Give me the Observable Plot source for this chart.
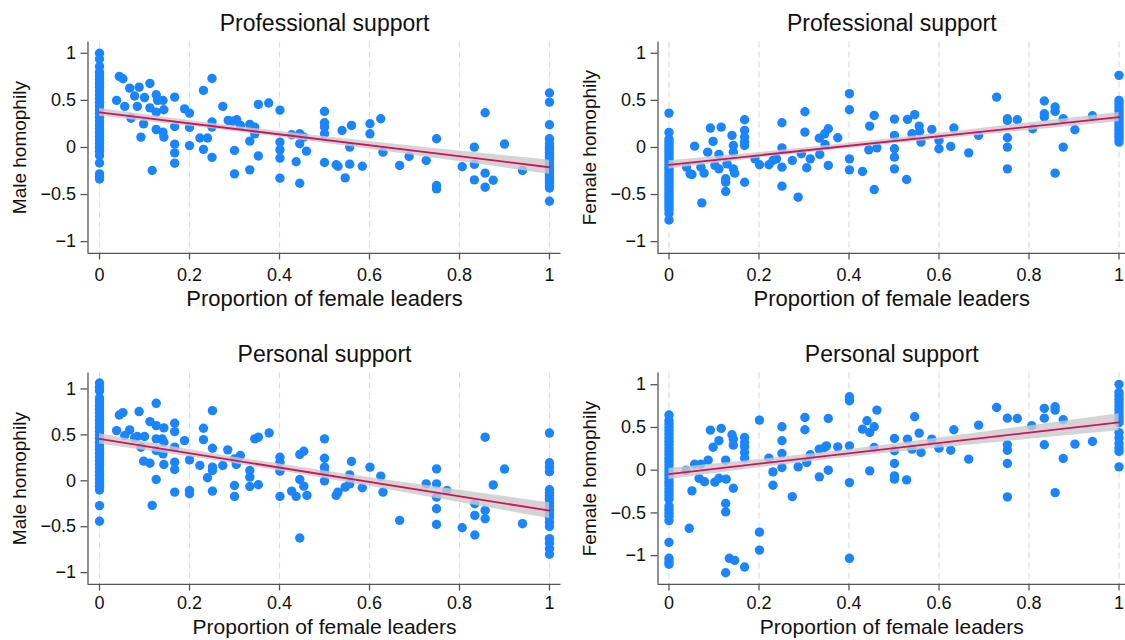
<!DOCTYPE html>
<html>
<head>
<meta charset="utf-8">
<script src="https://cdn.jsdelivr.net/npm/d3@7"></script>
<script src="https://cdn.jsdelivr.net/npm/@observablehq/plot@0.6"></script>
<style>
  html, body { margin: 0; padding: 0; background: #fff; }
  #root { position: relative; width: 1125px; height: 640px; overflow: hidden; background: #fff; }
  .cell { position: absolute; }
</style>
</head>
<body>
<div id="root"></div>
<script>
// ---------- tick labels & texts ----------
const xTicks = [0, 0.2, 0.4, 0.6, 0.8, 1];
const yTicks = [-1, -0.5, 0, 0.5, 1];
const xLabel = "Proportion of female leaders";
const panelTitles = ["Professional support", "Professional support", "Personal support", "Personal support"];
const yLabels = ["Male homophily", "Female homophily", "Male homophily", "Female homophily"];

// ---------- Panel 1: Professional support, male homophily ----------
const profMaleAt0 = [1.0,0.94,0.86,0.8,0.76,0.72,0.68,0.64,0.6,0.56,0.52,0.48,0.44,0.4,0.36,0.32,0.28,0.24,0.2,0.16,0.12,0.08,0.04,0,-0.04,-0.085,-0.165,-0.28,-0.31,-0.335];
const profMaleAt1 = [0.578,0.482,0.241,0.092,0.04,0.004,-0.02,-0.05,-0.08,-0.103,-0.13,-0.174,-0.2,-0.227,-0.25,-0.28,-0.31,-0.333,-0.36,-0.387,-0.41,-0.43,-0.571];
const profMaleMid = [[0.038,0.5],[0.044,0.755],[0.052,0.73],[0.056,0.436],[0.067,0.63],[0.07,0.31],[0.078,0.546],[0.084,0.436],[0.088,0.64],[0.092,0.11],[0.098,0.25],[0.1,0.53],[0.112,0.68],[0.112,0.42],[0.117,-0.245],[0.126,0.56],[0.129,0.5],[0.126,0.375],[0.126,0.19],[0.141,0.5],[0.143,0.4],[0.141,0.163],[0.143,0.11],[0.167,0.535],[0.167,0.223],[0.167,0.035],[0.167,-0.057],[0.167,-0.167],[0.189,0.41],[0.2,0.365],[0.2,0.213],[0.2,0.02],[0.223,0.1],[0.231,0.606],[0.231,-0.02],[0.24,0.1],[0.25,0.732],[0.25,0.27],[0.25,0.216],[0.25,-0.105],[0.274,0.436],[0.286,0.287],[0.296,0.28],[0.305,0.294],[0.313,0.234],[0.3,-0.032],[0.3,-0.28],[0.334,0.245],[0.334,0.067],[0.334,-0.238],[0.345,0.216],[0.345,0.145],[0.353,0.457],[0.353,-0.09],[0.376,0.472],[0.401,0.397],[0.401,0.057],[0.401,-0.025],[0.401,-0.113],[0.401,-0.326],[0.427,0.135],[0.437,-0.152],[0.445,0.145],[0.445,0.039],[0.445,-0.38],[0.454,0.11],[0.46,-0.039],[0.5,0.383],[0.5,0.262],[0.5,0.216],[0.5,0.145],[0.5,-0.16],[0.526,-0.184],[0.53,-0.199],[0.539,0.18],[0.546,-0.323],[0.556,0.004],[0.56,0.234],[0.556,-0.177],[0.584,-0.199],[0.601,0.252],[0.601,0.145],[0.625,0.305],[0.63,-0.05],[0.667,-0.191],[0.688,-0.096],[0.726,-0.138],[0.749,0.092],[0.749,-0.404],[0.749,-0.44],[0.806,-0.205],[0.833,0.004],[0.833,-0.18],[0.833,-0.344],[0.857,0.369],[0.857,-0.273],[0.857,-0.422],[0.875,-0.348],[0.9,0.036],[0.94,-0.245]];
const profMaleFit = [0.372, -0.21];
const profMaleCI = [0.041, 0.029, 0.035, 0.052, 0.074];

// ---------- Panel 2: Professional support, female homophily ----------
const profFemaleAt0 = [0.365,0.16,0.09,0.06,0.03,0,-0.03,-0.06,-0.09,-0.12,-0.15,-0.18,-0.21,-0.24,-0.27,-0.3,-0.33,-0.36,-0.39,-0.42,-0.45,-0.48,-0.51,-0.54,-0.57,-0.6,-0.63,-0.66,-0.7,-0.77];
const profFemaleAt1 = [0.766,0.5,0.465,0.43,0.395,0.36,0.33,0.3,0.27,0.24,0.21,0.18,0.15,0.12,0.09,0.057];
const profFemaleMid = [[0.039,-0.21],[0.047,-0.28],[0.057,0.014],[0.051,-0.287],[0.071,-0.209],[0.073,-0.589],[0.078,-0.273],[0.086,-0.05],[0.092,0.206],[0.098,0.064],[0.102,-0.19],[0.111,-0.227],[0.116,0.216],[0.111,-0.074],[0.126,-0.333],[0.126,-0.369],[0.126,-0.468],[0.129,-0.174],[0.14,0.128],[0.143,0.021],[0.143,-0.05],[0.143,-0.227],[0.146,-0.273],[0.168,0.294],[0.168,0.181],[0.168,0.11],[0.168,0.057],[0.168,0.021],[0.168,-0.369],[0.191,-0.121],[0.201,-0.184],[0.222,-0.184],[0.231,-0.138],[0.239,-0.121],[0.251,0.262],[0.251,-0.004],[0.251,-0.209],[0.251,-0.411],[0.274,-0.138],[0.287,-0.528],[0.294,-0.067],[0.302,0.379],[0.302,0.163],[0.306,-0.216],[0.314,-0.121],[0.334,0.099],[0.335,-0.074],[0.346,0.145],[0.347,0.032],[0.354,0.199],[0.354,-0.191],[0.375,0.103],[0.401,0.571],[0.401,0.401],[0.401,-0.121],[0.401,-0.238],[0.43,-0.255],[0.444,-0.025],[0.446,0.227],[0.456,0.34],[0.456,-0.447],[0.462,-0.004],[0.501,0.301],[0.501,0.128],[0.501,-0.014],[0.501,-0.103],[0.501,-0.227],[0.528,-0.34],[0.53,0.298],[0.54,0.145],[0.546,0.348],[0.556,0.227],[0.557,0.17],[0.56,0.057],[0.584,0.191],[0.6,0.074],[0.6,-0.014],[0.626,0.011],[0.633,0.206],[0.666,-0.057],[0.688,0.128],[0.728,0.535],[0.752,0.305],[0.752,0.287],[0.752,0.103],[0.752,0.004],[0.752,-0.227],[0.774,0.294],[0.808,0.199],[0.834,0.493],[0.834,0.358],[0.834,0.323],[0.858,0.429],[0.858,0.383],[0.858,-0.273],[0.876,0.004],[0.876,0.305],[0.902,0.188],[0.941,0.337]];
const profFemaleFit = [-0.185, 0.322];
const profFemaleCI = [0.044, 0.028, 0.03, 0.038, 0.05];

// ---------- Panel 3: Personal support, male homophily ----------
const persMaleAt0 = [1.065,1.02,0.98,0.9,0.86,0.82,0.78,0.74,0.7,0.66,0.62,0.58,0.54,0.5,0.46,0.42,0.38,0.34,0.3,0.26,0.22,0.18,0.14,0.1,0.06,0.02,-0.02,-0.06,-0.1,-0.27,-0.44];
const persMaleAt1 = [0.52,0.196,0.15,0.1,-0.098,-0.13,-0.16,-0.2,-0.24,-0.28,-0.32,-0.36,-0.4,-0.45,-0.497,-0.63,-0.68,-0.74,-0.8];
const persMaleMid = [[0.038,0.547],[0.044,0.717],[0.052,0.743],[0.056,0.493],[0.067,0.554],[0.078,0.467],[0.088,0.754],[0.084,0.482],[0.092,0.366],[0.098,0.214],[0.1,0.482],[0.112,0.645],[0.112,0.192],[0.117,-0.268],[0.126,0.844],[0.126,0.601],[0.126,0.457],[0.126,0.33],[0.126,0.014],[0.139,0.457],[0.143,0.576],[0.143,0.42],[0.141,0.293],[0.143,0.178],[0.167,0.627],[0.167,0.536],[0.167,0.366],[0.167,0.203],[0.167,0.123],[0.167,-0.123],[0.189,0.438],[0.2,0.228],[0.2,-0.105],[0.2,-0.141],[0.223,0.167],[0.231,0.572],[0.231,0.449],[0.24,0.033],[0.251,0.764],[0.251,0.355],[0.251,0.149],[0.251,0.112],[0.251,-0.112],[0.274,0.167],[0.285,0.337],[0.3,0.239],[0.304,0.178],[0.313,0.275],[0.3,-0.051],[0.3,-0.17],[0.334,0.112],[0.334,0.04],[0.334,-0.062],[0.345,0.457],[0.353,0.475],[0.353,-0.043],[0.377,0.522],[0.401,0.257],[0.401,0.203],[0.401,0.105],[0.401,-0.17],[0.427,-0.112],[0.437,-0.17],[0.445,0.286],[0.454,0.322],[0.445,0.014],[0.454,-0.058],[0.461,-0.159],[0.445,-0.623],[0.5,0.457],[0.5,0.246],[0.5,0.149],[0.5,0.094],[0.5,0],[0.526,-0.159],[0.53,-0.123],[0.546,-0.069],[0.556,-0.033],[0.556,0.065],[0.56,0.21],[0.584,-0.076],[0.601,0.149],[0.625,0.051],[0.63,-0.123],[0.667,-0.431],[0.726,-0.033],[0.749,0.13],[0.749,-0.033],[0.749,-0.178],[0.749,-0.304],[0.749,-0.475],[0.772,-0.105],[0.806,-0.511],[0.834,-0.25],[0.834,-0.377],[0.834,-0.59],[0.857,0.475],[0.857,-0.322],[0.857,-0.413],[0.875,-0.045],[0.9,0.128],[0.94,-0.467]];
const persMaleFit = [0.457, -0.325];
const persMaleCI = [0.055, 0.036, 0.042, 0.062, 0.085];

// ---------- Panel 4: Personal support, female homophily ----------
const persFemaleAt0 = [0.645,0.58,0.54,0.5,0.46,0.42,0.38,0.34,0.3,0.26,0.22,0.18,0.14,0.1,0.06,0.02,-0.02,-0.06,-0.1,-0.14,-0.18,-0.22,-0.26,-0.3,-0.34,-0.42,-0.46,-0.5,-0.54,-0.59,-0.845,-1.03,-1.07,-1.1];
const persFemaleAt1 = [1.004,0.91,0.87,0.83,0.79,0.75,0.71,0.67,0.63,0.59,0.556,0.44,0.38,0.31,0.26,0.22,0.039];
const persFemaleMid = [[0.038,0],[0.051,-0.242],[0.045,-0.68],[0.057,0.07],[0.071,0.07],[0.067,-0.095],[0.079,-0.135],[0.087,0.117],[0.092,0.469],[0.098,0.268],[0.102,-0.14],[0.111,0.345],[0.116,0.489],[0.111,-0.095],[0.126,0.117],[0.127,-0.105],[0.126,-0.39],[0.126,-0.488],[0.126,-1.2],[0.134,-1.031],[0.14,0.414],[0.143,0.363],[0.143,0.293],[0.143,-0.211],[0.146,-1.055],[0.168,0.383],[0.168,0.324],[0.168,0.273],[0.168,0.207],[0.168,0.141],[0.168,-1.133],[0.201,0.586],[0.201,-0.725],[0.201,-0.935],[0.222,0.141],[0.231,-0.02],[0.231,-0.176],[0.251,0.508],[0.251,0.344],[0.251,0.195],[0.251,0.031],[0.274,-0.309],[0.287,0.039],[0.302,0.617],[0.302,0.473],[0.306,0.09],[0.314,0.18],[0.334,0.246],[0.334,-0.078],[0.346,0.266],[0.35,0.285],[0.354,0.605],[0.354,0],[0.375,0.273],[0.401,0.859],[0.401,0.813],[0.401,0.285],[0.401,-0.145],[0.401,-1.031],[0.43,0.48],[0.44,0.578],[0.446,0.441],[0.456,0.508],[0.446,-0.008],[0.462,0.703],[0.456,0.266],[0.501,0.371],[0.501,0.227],[0.501,0.078],[0.501,-0.066],[0.501,-0.105],[0.528,-0.113],[0.53,0.363],[0.54,0.246],[0.546,0.625],[0.556,0.434],[0.56,0.207],[0.584,0.363],[0.6,0.258],[0.626,0.234],[0.633,0.473],[0.666,0.129],[0.688,0.527],[0.728,0.734],[0.752,0.609],[0.752,0.297],[0.752,0.234],[0.752,0.078],[0.752,-0.313],[0.774,0.605],[0.806,0.52],[0.834,0.723],[0.834,0.609],[0.834,0.297],[0.858,0.742],[0.858,0.703],[0.876,0.59],[0.876,0.137],[0.858,-0.262],[0.902,0.305],[0.941,0.336]];
const persFemaleFit = [-0.045, 0.56];
const persFemaleCI = [0.064, 0.045, 0.05, 0.072, 0.1];

// x positions at which the CI half-widths above were read
const ciX = [0, 0.25, 0.5, 0.75, 1];

// ---------- styling ----------
const FONT = "'Liberation Sans', Arial, Helvetica, sans-serif";
const DOT = "#1a85ff";
const LINE = "#d41159";
const AXIS = "#555555";
const GRID = "#dedede";
const fmt = d => (d < 0 ? "\u2212" : "") + Math.abs(d);

function buildPoints(at0, mid, at1) {
  return [
    ...at0.map(y => ({x: 0, y})),
    ...mid.map(([x, y]) => ({x, y})),
    ...at1.map(y => ({x: 1, y}))
  ];
}

function panel(cfg) {
  const {title, yLabel, at0, mid, at1, fit, ci, xDomain, yDomain, width, marginLeft, marginRight, xLabelDy, xLabelSize, xTickPad} = cfg;
  const pts = buildPoints(at0, mid, at1);
  const f = x => fit[0] + (fit[1] - fit[0]) * x;
  const band = ciX.map((x, i) => ({x, lo: f(x) - ci[i], hi: f(x) + ci[i]}));
  const line = [{x: 0, y: fit[0]}, {x: 1, y: fit[1]}];
  return Plot.plot({
    width, height: 320,
    marginTop: 41.5, marginBottom: 67.2, marginLeft, marginRight,
    x: {domain: xDomain},
    y: {domain: yDomain},
    style: {fontFamily: FONT, fontSize: "18px", color: "#111", background: "transparent", overflow: "visible"},
    marks: [
      Plot.ruleX(xTicks, {stroke: GRID, strokeWidth: 1.2, strokeDasharray: "6,4"}),
      Plot.dot(pts, {x: "x", y: "y", r: 4.7, fill: DOT, stroke: "none"}),
      Plot.areaY(band, {x: "x", y1: "lo", y2: "hi", fill: "#c9c9c9", fillOpacity: 0.8, curve: "natural"}),
      Plot.line(line, {x: "x", y: "y", stroke: LINE, strokeWidth: 1.8}),
      Plot.ruleX([xDomain[0]], {stroke: AXIS, strokeWidth: 1.3}),
      Plot.ruleY([yDomain[0]], {stroke: AXIS, strokeWidth: 1.3}),
      Plot.axisY({ticks: yTicks, tickFormat: fmt, tickSize: 7, tickPadding: 5, stroke: AXIS, strokeWidth: 1.3, fill: "#111", fontSize: 18, label: null}),
      Plot.axisX({ticks: xTicks, tickFormat: fmt, tickSize: 6.7, tickPadding: xTickPad, stroke: AXIS, strokeWidth: 1.3, fill: "#111", fontSize: 18, label: null}),
      Plot.text([title], {text: d => d, frameAnchor: "top", textAnchor: "middle", lineAnchor: "middle", dy: -17.9, fontSize: 23, fill: "#111"}),
      Plot.text([xLabel], {text: d => d, frameAnchor: "bottom", textAnchor: "middle", lineAnchor: "middle", dy: xLabelDy, fontSize: xLabelSize, fill: "#111"}),
      Plot.text([yLabel], {text: d => d, frameAnchor: "left", textAnchor: "middle", lineAnchor: "middle", rotate: -90, dx: -68, fontSize: 19, fill: "#111"})
    ]
  });
}

const leftCol = {width: 562, marginLeft: 87.5, marginRight: 1.5, xDomain: [-0.0256, 1.0256]};
const rightCol = {width: 563, marginLeft: 95.5, marginRight: 0, xDomain: [-0.0244, 1.0144]};
const topRow = {top: 0, xLabelDy: 45.3, xLabelSize: 22, xTickPad: 8};
const bottomRow = {top: 331, xLabelDy: 43, xLabelSize: 21, xTickPad: 5};

const panels = [
  {...leftCol, ...topRow, left: 0, title: panelTitles[0], yLabel: yLabels[0], at0: profMaleAt0, mid: profMaleMid, at1: profMaleAt1, fit: profMaleFit, ci: profMaleCI, yDomain: [-1.124, 1.12]},
  {...rightCol, ...topRow, left: 562, title: panelTitles[1], yLabel: yLabels[1], at0: profFemaleAt0, mid: profFemaleMid, at1: profFemaleAt1, fit: profFemaleFit, ci: profFemaleCI, yDomain: [-1.124, 1.12]},
  {...leftCol, ...bottomRow, left: 0, title: panelTitles[2], yLabel: yLabels[2], at0: persMaleAt0, mid: persMaleMid, at1: persMaleAt1, fit: persMaleFit, ci: persMaleCI, yDomain: [-1.127, 1.174]},
  {...rightCol, ...bottomRow, left: 562, title: panelTitles[3], yLabel: yLabels[3], at0: persFemaleAt0, mid: persFemaleMid, at1: persFemaleAt1, fit: persFemaleFit, ci: persFemaleCI, yDomain: [-1.335, 1.137]}
];

const root = document.getElementById("root");
for (const p of panels) {
  const cell = document.createElement("div");
  cell.className = "cell";
  cell.style.left = p.left + "px";
  cell.style.top = p.top + "px";
  cell.appendChild(panel(p));
  root.appendChild(cell);
}
</script>
</body>
</html>
